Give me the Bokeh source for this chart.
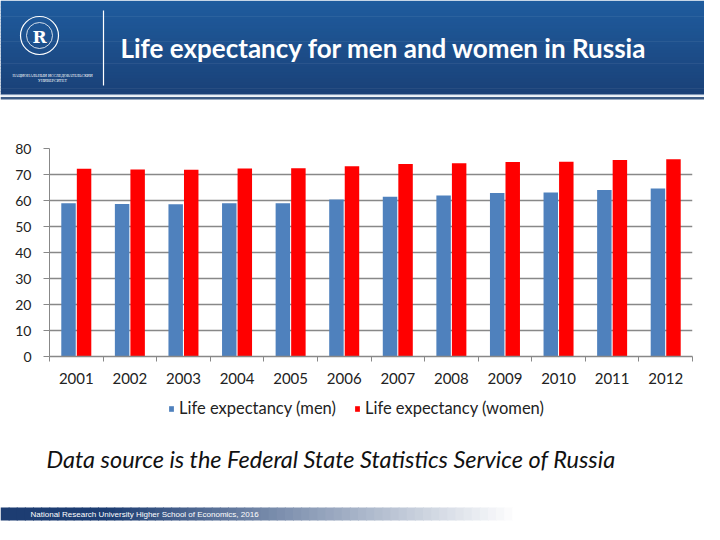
from bokeh.core.properties import value
from bokeh.embed import file_html
from bokeh.layouts import column
from bokeh.models import FixedTicker, Grid, Legend, LegendItem, LinearAxis, Range1d
from bokeh.plotting import figure
from bokeh.resources import INLINE
from bokeh.transform import dodge

# Data (Rosstat)
years = ["2001", "2002", "2003", "2004", "2005", "2006",
         "2007", "2008", "2009", "2010", "2011", "2012"]
men = [58.9, 58.7, 58.6, 58.9, 58.9, 60.4, 61.4, 61.9, 62.9, 63.1, 64.0, 64.6]
women = [72.2, 71.9, 71.8, 72.3, 72.4, 73.2, 74.0, 74.3, 74.8, 74.9, 75.6, 75.9]
y_ticks = [0, 10, 20, 30, 40, 50, 60, 70, 80]
series = ["Life expectancy (men)", "Life expectancy (women)"]
colors = ["#4f81bd", "#ff0000"]

title_text = "Life expectancy for men and women in Russia"
source_text = "Data source is the Federal State Statistics Service of Russia"
footer_text = "National Research University Higher School of Economics, 2016"

W = 704
FONT = "Lato"
GRAY = "#888888"


def blend(c1, c2, t):
    a = [int(c1[i:i + 2], 16) for i in (1, 3, 5)]
    b = [int(c2[i:i + 2], 16) for i in (1, 3, 5)]
    return "#%02x%02x%02x" % tuple(round(a[k] + (b[k] - a[k]) * t) for k in range(3))


def blank(height):
    p = figure(width=W, height=height, x_range=Range1d(0, W), y_range=Range1d(height, 0),
               x_axis_type=None, y_axis_type=None, toolbar_location=None,
               output_backend="svg", min_border=0)
    p.outline_line_color = None
    p.grid.visible = False
    p.frame_align = False
    return p


# Header band
header = blank(100)
n = 30
tops = [94 * i / n for i in range(n)]
header.quad(left=0, right=W, top=tops, bottom=[t + 94 / n + 0.6 for t in tops],
            fill_color=[blend("#1f5c9e", "#1a4178", i / (n - 1)) for i in range(n)],
            line_color=None)
header.quad(left=0, right=W, top=94, bottom=96, fill_color="#e4ebf4", line_color=None)
header.quad(left=0, right=W, top=96.5, bottom=99, fill_color="#3b5a85", line_color=None)
header.circle(x=[39], y=[35], radius=19, fill_color=None, line_color="white", line_width=1.2)
header.circle(x=[39], y=[35], radius=13, fill_color=None, line_color="white", line_width=0.8)
header.text(x=[39], y=[36], text=["R"], text_color="white", text_font=value("DejaVu Serif"),
            text_font_style="bold", text_font_size="17px", text_align="center",
            text_baseline="middle")
header.text(x=[52, 52], y=[75, 80], text=["НАЦИОНАЛЬНЫЙ ИССЛЕДОВАТЕЛЬСКИЙ", "УНИВЕРСИТЕТ"],
            text_color="white", text_font=value("Liberation Sans Narrow"),
            text_font_size="4px", text_align="center", text_baseline="middle")
header.segment(x0=[103], y0=[10], x1=[103], y1=[85], line_color="white", line_width=1.2)
header.text(x=[120], y=[47], text=[title_text], text_color="white", text_font=value(FONT),
            text_font_style="bold", text_font_size="26px", text_align="left",
            text_baseline="middle")

# Bar chart: one unit per year, ticks on the category boundaries
slots = list(range(len(years)))
centers = [s + 0.5 for s in slots]
source = {"pos": centers, "year": years, "men": men, "women": women}

chart = figure(width=W, height=297, x_range=Range1d(0, len(years)),
               y_range=Range1d(0, 80), x_axis_type=None, y_axis_type=None,
               toolbar_location=None, output_backend="svg",
               min_border_left=49, min_border_right=12, min_border_top=48,
               min_border_bottom=41)
chart.outline_line_color = None
chart.frame_align = False

yaxis = LinearAxis(ticker=FixedTicker(ticks=y_ticks))
yaxis.axis_line_color = GRAY
yaxis.major_tick_line_color = GRAY
yaxis.major_tick_out = 6
yaxis.major_tick_in = 0
yaxis.minor_tick_line_color = None
yaxis.major_label_standoff = 12
yaxis.major_label_text_font = FONT
yaxis.major_label_text_font_size = "14px"
yaxis.major_label_text_color = "#222222"
chart.add_layout(yaxis, "left")
chart.add_layout(Grid(dimension=1, ticker=yaxis.ticker, grid_line_color=GRAY,
                      grid_line_width=1.5))

xaxis = LinearAxis(ticker=FixedTicker(ticks=centers, minor_ticks=slots + [len(years)]),
                   major_label_overrides={c: y for c, y in zip(centers, years)})
xaxis.axis_line_color = GRAY
xaxis.axis_line_width = 1.5
xaxis.major_tick_line_color = None
xaxis.major_tick_out = 5
xaxis.major_tick_in = 0
xaxis.minor_tick_line_color = GRAY
xaxis.minor_tick_out = 5
xaxis.minor_tick_in = 0
xaxis.major_label_standoff = 11
xaxis.major_label_text_font = FONT
xaxis.major_label_text_font_size = "15px"
xaxis.major_label_text_color = "#222222"
chart.add_layout(xaxis, "below")

chart.vbar(x=dodge("pos", -0.145), top="men", width=0.27, source=source,
           fill_color=colors[0], line_color=None)
chart.vbar(x=dodge("pos", 0.145), top="women", width=0.27, source=source,
           fill_color=colors[1], line_color=None)

# Footer: legend, source note and university band
FH = 127
footer = blank(FH)
# zero-size stand-ins so the legend in this panel has its colour swatches
keys = [footer.vbar(x=[0], top=[0], bottom=[0], width=0, fill_color=c, line_color=None)
        for c in colors]
legend = Legend(items=[LegendItem(label=s, renderers=[r]) for s, r in zip(series, keys)],
                orientation="horizontal", location=(168, FH - 21))
legend.padding = 0
legend.margin = 0
legend.spacing = 18
legend.glyph_width = 6
legend.glyph_height = 7
legend.label_height = 16
legend.label_standoff = 5
legend.label_text_font = FONT
legend.label_text_font_size = "16.5px"
legend.label_text_color = "#222222"
legend.border_line_color = None
legend.background_fill_alpha = 0
footer.add_layout(legend, "center")

footer.text(x=[46], y=[61], text=[source_text], text_color="#111111", text_font=value(FONT),
            text_font_style="italic", text_font_size="23.5px", text_align="left",
            text_baseline="middle")

m = 64
lefts = [520 * i / m for i in range(m)]
footer.quad(left=lefts, right=[l + 520 / m + 1 for l in lefts], top=110, bottom=123,
            fill_color=[blend("#1d3d72", "#ffffff", min(1, max(0, (i / (m - 1) - 0.2) / 0.8)))
                        for i in range(m)],
            line_color=None)
footer.text(x=[30], y=[117], text=[footer_text], text_color="white",
            text_font=value("Liberation Sans"), text_font_size="8px", text_align="left",
            text_baseline="middle")

layout = column(header, chart, footer, spacing=0)
open("out.html", "w").write(file_html(layout, INLINE))
